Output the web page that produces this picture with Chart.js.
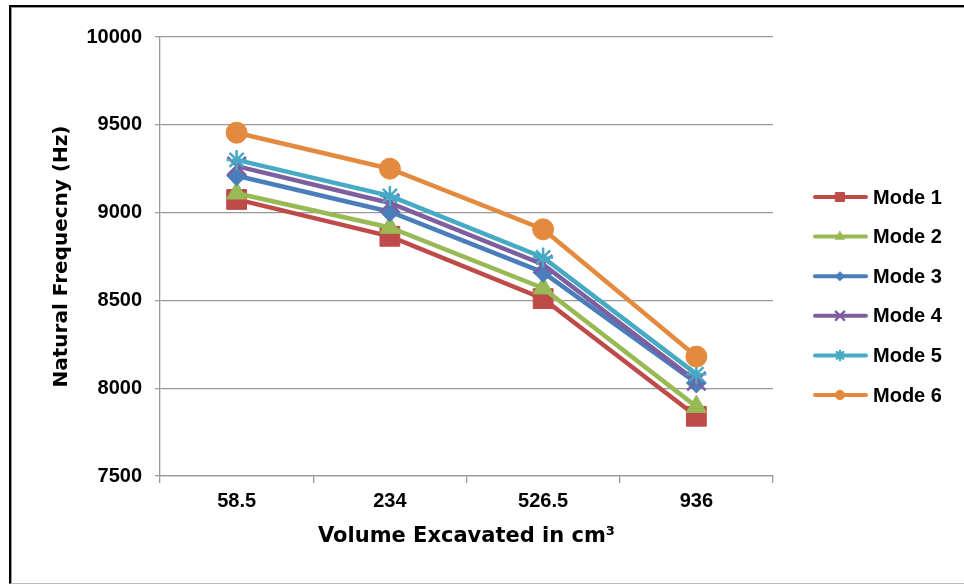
<!DOCTYPE html>
<html>
<head>
<meta charset="utf-8">
<title>Natural Frequency vs Volume Excavated</title>
<script src="https://cdn.jsdelivr.net/npm/chart.js@4.4.1/dist/chart.umd.min.js"></script>
<style>
  html, body { margin: 0; padding: 0; background: #fff; }
  #wrap { position: relative; width: 964px; height: 584px; overflow: hidden; }
  #frame {
    position: absolute; left: 9px; top: 5px; width: 970px; height: 576px;
    border-top: 2px solid #000; border-left: 2px solid #000; border-bottom: 1px solid #bbb;
    box-shadow: inset 1px 1px 0 #999;
  }
  #chart { position: absolute; left: 0; top: 0; }
</style>
</head>
<body>
<div id="wrap">
  <div id="frame"></div>
  <canvas id="chart" width="964" height="584"></canvas>
</div>
<script>
// categories (volume excavated, cm3)
const volumes = ['58.5', '234', '526.5', '936'];

// natural frequency per mode, Hz
const mode1 = [9075, 8865, 8510, 7840];
const mode2 = [9110, 8915, 8570, 7895];
const mode3 = [9210, 9005, 8660, 8030];
const mode4 = [9265, 9055, 8705, 8040];
const mode5 = [9300, 9095, 8745, 8080];
const mode6 = [9455, 9250, 8905, 8180];

const modeNames = ['Mode 1', 'Mode 2', 'Mode 3', 'Mode 4', 'Mode 5', 'Mode 6'];
const yTicks = [7500, 8000, 8500, 9000, 9500, 10000];

const seriesValues = [mode1, mode2, mode3, mode4, mode5, mode6];
const colors = ['#BE4B48', '#98B954', '#4A7EBB', '#7D5FA0', '#46AAC5', '#E38A3E'];
const markers = ['rect', 'triangle', 'rectRot', 'crossRot', 'star', 'circle'];
const markerSize = [14, 11.5, 10, 13, 10, 10.5];

const tickFont = { family: '"Liberation Sans", Arial, sans-serif', size: 20, weight: 'bold' };
const titleFont = { family: '"DejaVu Sans", sans-serif', size: 20, weight: 'bold' };

// legend on the right: line with a small marker, then the name
const sideLegend = {
  id: 'sideLegend',
  afterDraw(chart) {
    const ctx = chart.ctx;
    chart.data.datasets.forEach((ds, i) => {
      const y = 197 + i * 39.6;
      ctx.save();
      ctx.strokeStyle = ds.borderColor;
      ctx.lineWidth = 4;
      ctx.lineCap = 'round';
      ctx.beginPath();
      ctx.moveTo(815, y);
      ctx.lineTo(866, y);
      ctx.stroke();
      ctx.fillStyle = ds.borderColor;
      ctx.lineWidth = ds.pointBorderWidth;
      Chart.helpers.drawPoint(ctx, {
        pointStyle: ds.pointStyle,
        radius: ds.pointRadius * 0.45,
        borderWidth: ds.pointBorderWidth,
        rotation: 0
      }, 840, y);
      ctx.fillStyle = '#000';
      ctx.font = 'bold 20px "Liberation Sans", Arial, sans-serif';
      ctx.textBaseline = 'middle';
      ctx.textAlign = 'left';
      ctx.fillText(ds.label, 873, y + 1);
      ctx.restore();
    });
  }
};

new Chart(document.getElementById('chart'), {
  type: 'line',
  data: {
    labels: volumes,
    datasets: seriesValues.map((vals, i) => ({
      label: modeNames[i],
      data: vals,
      borderColor: colors[i],
      backgroundColor: colors[i],
      pointBackgroundColor: colors[i],
      pointBorderColor: colors[i],
      borderWidth: 4.5,
      pointStyle: markers[i],
      pointRadius: markerSize[i],
      pointHoverRadius: markerSize[i],
      pointBorderWidth: (markers[i] === 'crossRot' || markers[i] === 'star') ? 2.5 : 1,
      tension: 0,
      fill: false,
      order: 6 - i
    }))
  },
  options: {
    responsive: false,
    animation: false,
    events: [],
    layout: { padding: { top: 37, right: 191, left: 0, bottom: 0 } },
    plugins: {
      legend: { display: false },
      tooltip: { enabled: false }
    },
    scales: {
      x: {
        offset: true,
        afterFit: s => { s.height = 108; },
        grid: { offset: true, drawOnChartArea: false, color: '#999', lineWidth: 1.3, tickLength: 7 },
        border: { color: '#999', width: 1.3 },
        ticks: { color: '#000', font: tickFont, padding: 6, maxRotation: 0 },
        title: {
          display: true, text: 'Volume Excavated in cm³', color: '#000',
          font: { family: titleFont.family, size: 21, weight: 'bold' }, padding: { top: 0, bottom: 35 }
        }
      },
      y: {
        min: 7500,
        max: 10000,
        afterFit: s => { s.width = 160; },
        afterBuildTicks: s => { s.ticks = yTicks.map(v => ({ value: v })); },
        grid: { color: '#999', lineWidth: 1.3, tickLength: 5 },
        border: { color: '#999', width: 1.3 },
        ticks: { color: '#000', font: tickFont, padding: 13, callback: v => String(v) },
        title: {
          display: true, text: 'Natural Frequecny (Hz)', color: '#000',
          font: titleFont, padding: { top: 50, bottom: 0 }
        }
      }
    }
  },
  plugins: [sideLegend]
});
</script>
</body>
</html>
